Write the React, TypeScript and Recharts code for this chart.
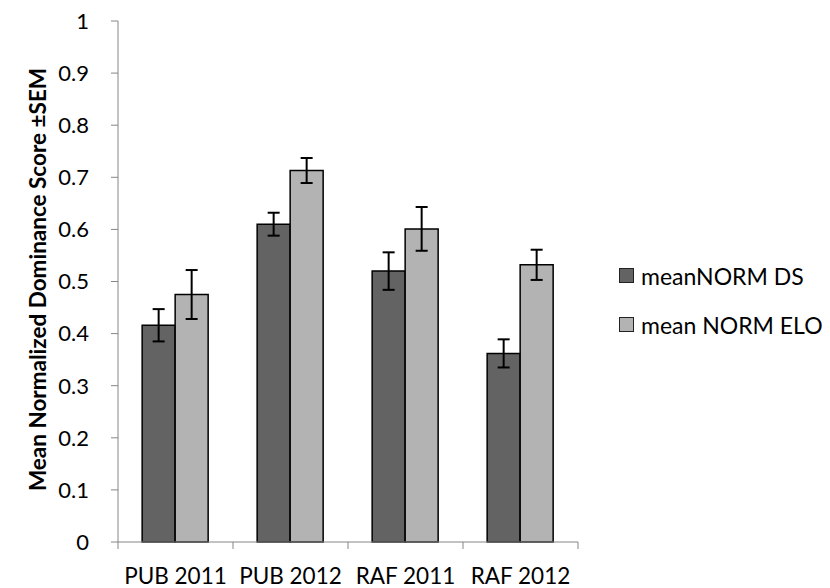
import React from "react";
import {
  BarChart,
  Bar,
  XAxis,
  YAxis,
  ErrorBar,
  Legend,
} from "recharts";

const categories = ["PUB 2011", "PUB 2012", "RAF 2011", "RAF 2012"];
const dsMeans = [0.416, 0.61, 0.52, 0.362];
const dsSem = [0.031, 0.022, 0.036, 0.027];
const eloMeans = [0.475, 0.713, 0.601, 0.532];
const eloSem = [0.047, 0.024, 0.042, 0.029];
const yTicks = [0, 0.1, 0.2, 0.3, 0.4, 0.5, 0.6, 0.7, 0.8, 0.9, 1];

const seriesNames = ["meanNORM DS", "mean NORM ELO"];
const seriesColors = ["#636363", "#b3b3b3"];

const data = categories.map((c, i) => ({
  name: c,
  ds: dsMeans[i],
  dsErr: dsSem[i],
  elo: eloMeans[i],
  eloErr: eloSem[i],
}));

const W = 830;
const H = 588;
const MARGIN = { top: 21, right: 252, bottom: 0, left: 0 };
const Y_AXIS_W = 118;
const X_AXIS_H = 46;
const AXIS_COLOR = "#868686";
const FONT = "Lato, 'Open Sans', sans-serif";

const band = (W - MARGIN.right - MARGIN.left - Y_AXIS_W) / categories.length;

function XTick({ x, y, payload, index }: any) {
  const left = x - band / 2;
  const right = x + band / 2;
  return (
    <g>
      <line x1={left} y1={y} x2={left} y2={y + 7} stroke={AXIS_COLOR} strokeWidth={1} />
      {index === categories.length - 1 && (
        <line x1={right} y1={y} x2={right} y2={y + 7} stroke={AXIS_COLOR} strokeWidth={1} />
      )}
      <text x={x} y={y + 42} textAnchor="middle" fontSize={22.5} fill="#000" fontFamily={FONT}>
        {payload.value}
      </text>
    </g>
  );
}

function LegendBox() {
  return (
    <div style={{ fontFamily: FONT, fontSize: 23, color: "#000" }}>
      {seriesNames.map((n, i) => (
        <div key={n} style={{ display: "flex", alignItems: "center", height: 49 }}>
          <span
            style={{
              width: 13,
              height: 13,
              background: seriesColors[i],
              border: "1px solid #222",
              marginRight: 7,
            }}
          />
          <span>{n}</span>
        </div>
      ))}
    </div>
  );
}

function YLabel() {
  const cy = 21 + (H - 21 - X_AXIS_H) / 2 - 2;
  return (
    <text
      transform={`translate(37, ${cy}) rotate(-90)`}
      textAnchor="middle"
      dominantBaseline="central"
      fontSize={22.5}
      fontWeight={700}
      fill="#000"
      fontFamily={FONT}
    >
      Mean Normalized Dominance Score ±SEM
    </text>
  );
}

export default function App() {
  return (
    <div style={{ position: "absolute", left: 0, top: 0, background: "#fff" }}>
      <BarChart
        width={W}
        height={H}
        data={data}
        margin={MARGIN}
        barCategoryGap="21%"
        barGap={0}
      >
        <XAxis
          dataKey="name"
          height={X_AXIS_H}
          stroke={AXIS_COLOR}
          tickLine={false}
          tickSize={0}
          tickMargin={0}
          tick={<XTick />}
          interval={0}
        />
        <YAxis
          width={Y_AXIS_W}
          domain={[0, 1]}
          ticks={yTicks}
          interval={0}
          stroke={AXIS_COLOR}
          tickSize={7}
          tickMargin={22}
          tick={{ fill: "#000", fontSize: 22, fontFamily: FONT }}
          label={{ content: <YLabel /> }}
        />
        <Legend
          align="center"
          verticalAlign="middle"
          content={<LegendBox />}
          wrapperStyle={{ left: 619, top: 251, width: 211 }}
        />
        <Bar
          dataKey="ds"
          name={seriesNames[0]}
          fill={seriesColors[0]}
          stroke="#000"
          strokeWidth={1.5}
          isAnimationActive={false}
        >
          <ErrorBar dataKey="dsErr" width={6} stroke="#000" strokeWidth={2} />
        </Bar>
        <Bar
          dataKey="elo"
          name={seriesNames[1]}
          fill={seriesColors[1]}
          stroke="#000"
          strokeWidth={1.5}
          isAnimationActive={false}
        >
          <ErrorBar dataKey="eloErr" width={6} stroke="#000" strokeWidth={2} />
        </Bar>
      </BarChart>
    </div>
  );
}
